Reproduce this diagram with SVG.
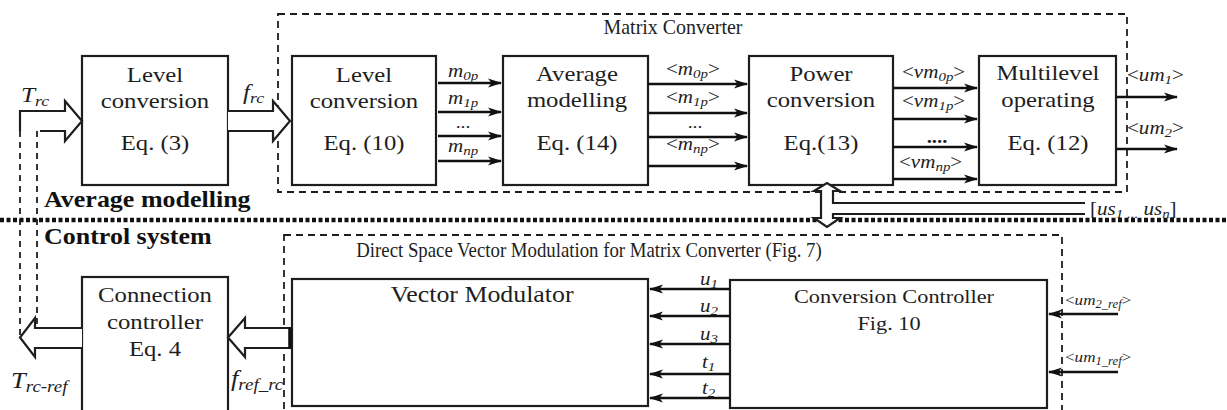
<svg xmlns="http://www.w3.org/2000/svg" width="1227" height="410" viewBox="0 0 1227 410">
<style>
.box{fill:none;stroke:#1e1e1e;stroke-width:2.2}
.dash{fill:none;stroke:#1e1e1e;stroke-width:1.8;stroke-dasharray:7 5}
.vd{fill:none;stroke:#1e1e1e;stroke-width:1.8;stroke-dasharray:6 5}
.ln{fill:none;stroke:#111;stroke-width:2.4;marker-end:url(#ah)}
.hol{fill:#fff;stroke:#1e1e1e;stroke-width:2.2;stroke-linejoin:miter}
.t{font-family:"Liberation Serif","Times New Roman",serif;font-size:21.5px;fill:#1e1e1e;text-anchor:middle}
.lb{font-family:"Liberation Serif","Times New Roman",serif;font-size:18.3px;font-style:italic;fill:#1e1e1e}
.sb{font-size:13px}
.ss{font-size:11.5px}
.n{font-style:normal}
.b{font-family:"Liberation Serif","Times New Roman",serif;font-size:22.6px;font-weight:bold;fill:#111}
</style>
<defs>
<marker id="ah" viewBox="0 0 14 10" refX="13" refY="5" markerWidth="14" markerHeight="10" orient="auto" markerUnits="userSpaceOnUse">
<path d="M0,0.5 L14,5 L0,9.5 L3.5,5 Z" fill="#111"/>
</marker>
</defs>
<rect width="1227" height="410" fill="#fff"/>

<g id="regions">
<rect class="dash" x="278" y="14" width="849" height="178"/>
<rect class="dash" x="284" y="235" width="778" height="185"/>
<line x1="0" y1="220" x2="1227" y2="220" stroke="#111" stroke-width="4.5" stroke-dasharray="4 2.5"/>
<text class="t" transform="translate(673 34) scale(0.95 1)" style="font-size:21px">Matrix Converter</text>
<text class="t" transform="translate(589 257) scale(0.94 1)" style="font-size:20px">Direct Space Vector Modulation for Matrix Converter (Fig. 7)</text>
<text class="b" transform="translate(44 207) scale(1.15 1)">Average modelling</text>
<text class="b" transform="translate(44 244) scale(1.15 1)">Control system</text>
</g>

<g id="level1">
<rect class="box" x="82" y="56" width="146" height="129"/>
<text class="t" transform="translate(155 82) scale(1.15 1)">Level</text>
<text class="t" transform="translate(155 108) scale(1.15 1)">conversion</text>
<text class="t" transform="translate(155 150) scale(1.15 1)">Eq. (3)</text>
</g>

<g id="level2">
<rect class="box" x="292" y="56" width="144" height="129"/>
<text class="t" transform="translate(364 82) scale(1.15 1)">Level</text>
<text class="t" transform="translate(364 108) scale(1.15 1)">conversion</text>
<text class="t" transform="translate(364 150) scale(1.15 1)">Eq. (10)</text>
</g>

<g id="average">
<rect class="box" x="503" y="56" width="145" height="129"/>
<text class="t" transform="translate(577 81) scale(1.15 1)">Average</text>
<text class="t" transform="translate(577 107) scale(1.15 1)">modelling</text>
<text class="t" transform="translate(577 150) scale(1.15 1)">Eq. (14)</text>
</g>

<g id="power">
<rect class="box" x="749" y="56" width="144" height="129"/>
<text class="t" transform="translate(821 81) scale(1.15 1)">Power</text>
<text class="t" transform="translate(821 107) scale(1.15 1)">conversion</text>
<text class="t" transform="translate(821 150) scale(1.15 1)">Eq.(13)</text>
</g>

<g id="multilevel">
<rect class="box" x="979" y="56" width="137" height="129"/>
<text class="t" transform="translate(1048 80) scale(1.15 1)">Multilevel</text>
<text class="t" transform="translate(1048 107) scale(1.15 1)">operating</text>
<text class="t" transform="translate(1048 150) scale(1.15 1)">Eq. (12)</text>
</g>

<g id="connection">
<rect class="box" x="82" y="277" width="146" height="145"/>
<text class="t" transform="translate(155 302) scale(1.15 1)">Connection</text>
<text class="t" transform="translate(155 329) scale(1.15 1)">controller</text>
<text class="t" transform="translate(155 356) scale(1.15 1)">Eq. 4</text>
</g>

<g id="vector-modulator">
<rect class="box" x="292" y="279" width="356" height="127"/>
<text class="t" transform="translate(482 302) scale(1.15 1)" style="font-size:22.5px">Vector Modulator</text>
</g>

<g id="conversion-controller">
<rect class="box" x="730" y="280" width="317" height="128"/>
<text class="t" transform="translate(894 303) scale(1.15 1)" style="font-size:19.4px">Conversion Controller</text>
<text class="t" transform="translate(889 330) scale(1.15 1)" style="font-size:19.4px">Fig. 10</text>
</g>

<g id="connectors">
<path class="hol" d="M40,131 L65,131 L65,141 L82,121 L65,101 L65,111 L20,111 L20,131"/>
<line class="vd" x1="20" y1="131" x2="20" y2="336"/>
<line class="vd" x1="37" y1="131" x2="37" y2="328"/>
<path class="hol" d="M82,328 L35,328 L35,318 L20,337.5 L35,357 L35,348 L82,348"/>
<path class="hol" d="M228,111 L273,111 L273,101 L290,121 L273,141 L273,131 L228,131"/>
<path class="hol" d="M290,328 L245,328 L245,318 L228,337.5 L245,357 L245,348 L290,348 Z"/>
<line x1="290" y1="327" x2="290" y2="349" stroke="#111" stroke-width="3.5"/>

<line class="ln" x1="438" y1="83" x2="501" y2="83"/>
<line class="ln" x1="438" y1="112" x2="501" y2="112"/>
<line class="ln" x1="438" y1="136" x2="501" y2="136"/>
<line class="ln" x1="438" y1="161" x2="501" y2="161"/>
<line class="ln" x1="648" y1="84" x2="747" y2="84"/>
<line class="ln" x1="648" y1="113" x2="747" y2="113"/>
<line class="ln" x1="648" y1="137" x2="747" y2="137"/>
<line class="ln" x1="648" y1="166" x2="747" y2="166"/>
<line class="ln" x1="893" y1="88" x2="977" y2="88"/>
<line class="ln" x1="893" y1="119" x2="977" y2="119"/>
<line class="ln" x1="893" y1="147" x2="977" y2="147"/>
<line class="ln" x1="893" y1="179" x2="977" y2="179"/>
<line class="ln" x1="1116" y1="97" x2="1177" y2="97"/>
<line class="ln" x1="1116" y1="149" x2="1177" y2="149"/>

<path class="hol" d="M1085,203 L833,203 L833,191 L840,191 L827,183 L814,191 L821,191 L821,218 L814,218 L827,227 L840,218 L833,218 L833,214 L1085,214"/>

<line class="ln" x1="730" y1="289" x2="650" y2="289"/>
<line class="ln" x1="730" y1="316" x2="650" y2="316"/>
<line class="ln" x1="730" y1="344" x2="650" y2="344"/>
<line class="ln" x1="730" y1="374" x2="650" y2="374"/>
<line class="ln" x1="730" y1="398" x2="650" y2="398"/>
<line class="ln" x1="1118" y1="314" x2="1049" y2="314"/>
<line class="ln" x1="1118" y1="372" x2="1049" y2="372"/>
</g>

<g id="labels">
<text class="lb" transform="translate(21 102) scale(1.15 1)" style="font-size:22px">T<tspan style="font-size:15.5px" dy="4">rc</tspan></text>
<text class="lb" transform="translate(243 99) scale(1.15 1)" style="font-size:22px">f<tspan style="font-size:15.5px" dy="4">rc</tspan></text>
<text class="lb" transform="translate(11 388) scale(1.15 1)" style="font-size:23px">T<tspan style="font-size:16.5px" dy="4">rc-ref</tspan></text>
<text class="lb" transform="translate(231 386) scale(1.15 1)" style="font-size:23px">f<tspan style="font-size:16.5px" dy="4">ref_rc</tspan></text>

<text class="lb" transform="translate(448 77) scale(1.15 1)">m<tspan class="sb" dy="3">0p</tspan></text>
<text class="lb" transform="translate(448 104) scale(1.15 1)">m<tspan class="sb" dy="3">1p</tspan></text>
<text class="t" transform="translate(463 128) scale(1.15 1)" style="font-size:17px">...</text>
<text class="lb" transform="translate(448 152) scale(1.15 1)">m<tspan class="sb" dy="3">np</tspan></text>

<text class="lb" transform="translate(666 75) scale(1.15 1)"><tspan class="n">&lt;</tspan>m<tspan class="sb" dy="3">0p</tspan><tspan class="n" dy="-3">&gt;</tspan></text>
<text class="lb" transform="translate(666 103) scale(1.15 1)"><tspan class="n">&lt;</tspan>m<tspan class="sb" dy="3">1p</tspan><tspan class="n" dy="-3">&gt;</tspan></text>
<text class="t" transform="translate(695 128) scale(1.15 1)" style="font-size:17px">...</text>
<text class="lb" transform="translate(666 150) scale(1.15 1)"><tspan class="n">&lt;</tspan>m<tspan class="sb" dy="3">np</tspan><tspan class="n" dy="-3">&gt;</tspan></text>

<text class="lb" transform="translate(902 78) scale(1.15 1)"><tspan class="n">&lt;</tspan>vm<tspan class="sb" dy="3">0p</tspan><tspan class="n" dy="-3">&gt;</tspan></text>
<text class="lb" transform="translate(902 107) scale(1.15 1)"><tspan class="n">&lt;</tspan>vm<tspan class="sb" dy="3">1p</tspan><tspan class="n" dy="-3">&gt;</tspan></text>
<text class="t" transform="translate(937 143) scale(1.15 1)" style="font-size:18px;font-weight:bold">....</text>
<text class="lb" transform="translate(899 168) scale(1.15 1)"><tspan class="n">&lt;</tspan>vm<tspan class="sb" dy="3">np</tspan><tspan class="n" dy="-3">&gt;</tspan></text>

<text class="lb" transform="translate(1127 81) scale(1.15 1)"><tspan class="n">&lt;</tspan>um<tspan class="sb" dy="3">1</tspan><tspan class="n" dy="-3">&gt;</tspan></text>
<text class="lb" transform="translate(1127 134) scale(1.15 1)"><tspan class="n">&lt;</tspan>um<tspan class="sb" dy="3">2</tspan><tspan class="n" dy="-3">&gt;</tspan></text>

<text class="lb" transform="translate(1090 215) scale(1.15 1)"><tspan class="n">[</tspan>us<tspan class="sb" dy="3">1 ...</tspan><tspan dy="-3"> us</tspan><tspan class="sb" dy="3">n</tspan><tspan class="n" dy="-3">]</tspan></text>

<text class="lb" transform="translate(700 285) scale(1.15 1)">u<tspan class="sb" dy="3">1</tspan></text>
<text class="lb" transform="translate(700 312) scale(1.15 1)">u<tspan class="sb" dy="3">2</tspan></text>
<text class="lb" transform="translate(700 340) scale(1.15 1)">u<tspan class="sb" dy="3">3</tspan></text>
<text class="lb" transform="translate(702 368) scale(1.15 1)">t<tspan class="sb" dy="3">1</tspan></text>
<text class="lb" transform="translate(702 394) scale(1.15 1)">t<tspan class="sb" dy="3">2</tspan></text>

<text class="lb" transform="translate(1065 305) scale(1.1 1)" style="font-size:15.5px"><tspan class="n">&lt;</tspan>um<tspan class="ss" dy="3">2_ref</tspan><tspan class="n" dy="-3">&gt;</tspan></text>
<text class="lb" transform="translate(1065 362) scale(1.1 1)" style="font-size:15.5px"><tspan class="n">&lt;</tspan>um<tspan class="ss" dy="3">1_ref</tspan><tspan class="n" dy="-3">&gt;</tspan></text>
</g>
</svg>
